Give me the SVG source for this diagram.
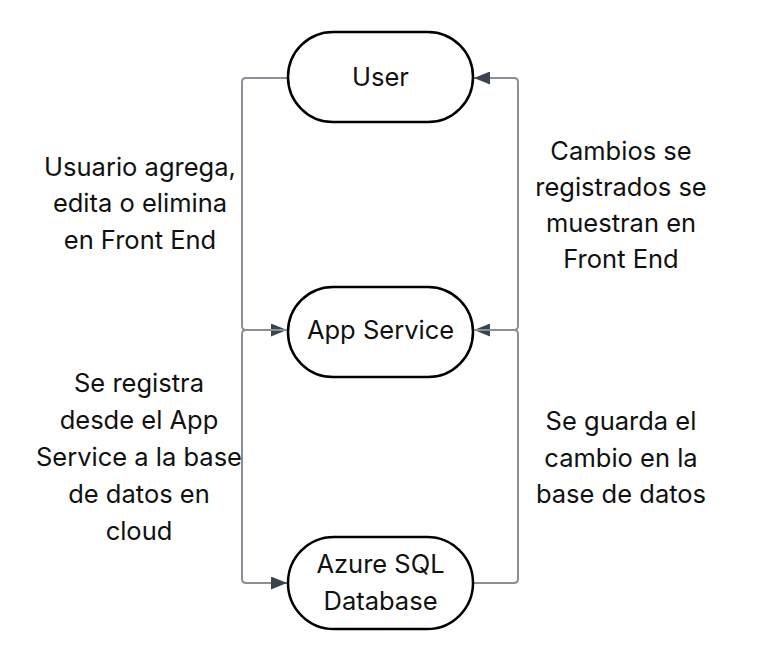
<svg xmlns="http://www.w3.org/2000/svg" width="760" height="661" viewBox="0 0 760 661">
<style>
.node{fill:#ffffff;stroke:#000000;stroke-width:2.5}
.nt{font-family:Inter,"Noto Sans",sans-serif;font-size:25.5px;fill:#111111;text-anchor:middle}
.lt{font-family:Inter,"Noto Sans",sans-serif;font-size:25.5px;fill:#111111;text-anchor:middle}
.edge{fill:none;stroke:#8b9098;stroke-width:2}
</style>
<defs>
<marker id="arr" markerWidth="16" markerHeight="13" refX="16" refY="6.5" orient="auto" markerUnits="userSpaceOnUse">
<path d="M0,0 L16,6.5 L0,13 Z" fill="#3a4350"/>
</marker>
</defs>
<rect width="760" height="661" fill="#ffffff"/>
<g id="connectors">
<path class="edge" d="M288,78 H246 Q242,78 242,82 V326 Q242,330 246,330 H287" marker-end="url(#arr)"/>
<path class="edge" d="M288,330 H246 Q242,330 242,334 V579 Q242,583 246,583 H287" marker-end="url(#arr)"/>
<path class="edge" d="M473,583 H514 Q518,583 518,579 V334 Q518,330 514,330 H474" marker-end="url(#arr)"/>
<path class="edge" d="M473,330 H514 Q518,330 518,326 V82 Q518,78 514,78 H474" marker-end="url(#arr)"/>
</g>
<g id="node-user">
<rect class="node" x="288" y="32" width="185" height="90" rx="45"/>
<text class="nt" x="380.5" y="86">User</text>
</g>
<g id="node-app">
<rect class="node" x="288" y="287" width="185" height="90" rx="45"/>
<text class="nt" x="380.5" y="339">App Service</text>
</g>
<g id="node-db">
<rect class="node" x="288" y="537" width="185" height="92" rx="46"/>
<text class="nt" x="380.5" y="573">Azure SQL</text>
<text class="nt" x="380.5" y="610">Database</text>
</g>
<g id="labels">
<text class="lt" x="140" y="176">Usuario agrega,</text>
<text class="lt" x="140" y="212">edita o elimina</text>
<text class="lt" x="140" y="249">en Front End</text>
<text class="lt" x="621" y="160">Cambios se</text>
<text class="lt" x="621" y="196">registrados se</text>
<text class="lt" x="621" y="232">muestran en</text>
<text class="lt" x="621" y="268">Front End</text>
<text class="lt" x="139" y="392">Se registra</text>
<text class="lt" x="139" y="429">desde el App</text>
<text class="lt" x="139" y="466">Service a la base</text>
<text class="lt" x="139" y="503">de datos en</text>
<text class="lt" x="139" y="540">cloud</text>
<text class="lt" x="621" y="430">Se guarda el</text>
<text class="lt" x="621" y="467">cambio en la</text>
<text class="lt" x="621" y="503">base de datos</text>
</g>
</svg>
